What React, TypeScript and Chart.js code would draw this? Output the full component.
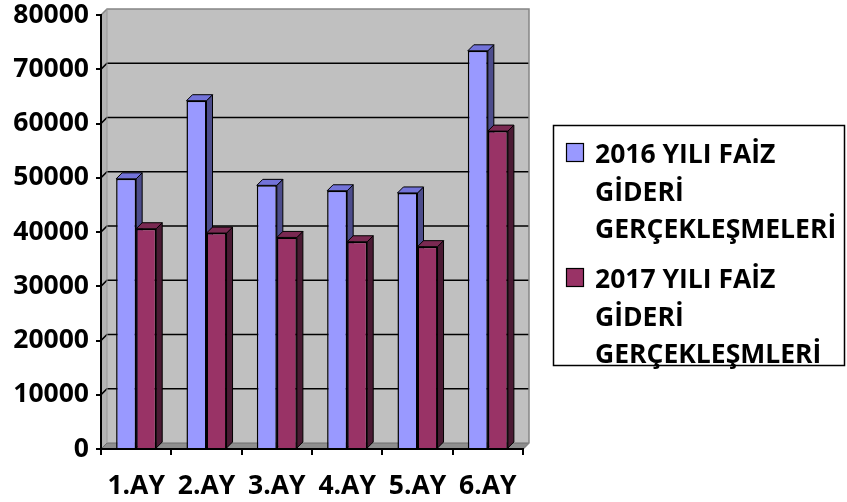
import React, { useEffect, useRef } from "react";
import { Chart, registerables } from "chart.js";

Chart.register(...registerables);

const categories = ["1.AY", "2.AY", "3.AY", "4.AY", "5.AY", "6.AY"];
const series2016 = [49800, 64200, 48600, 47600, 47200, 73400];
const series2017 = [40600, 39800, 39000, 38200, 37300, 58600];
const seriesNames = [
  "2016 YILI FAİZ GİDERİ GERÇEKLEŞMELERİ",
  "2017 YILI FAİZ GİDERİ GERÇEKLEŞMLERİ",
];
const legendLines = [
  ["2016 YILI FAİZ", "GİDERİ", "GERÇEKLEŞMELERİ"],
  ["2017 YILI FAİZ", "GİDERİ", "GERÇEKLEŞMLERİ"],
];
const yMin = 0;
const yMax = 80000;
const yStep = 10000;

const FONT = "'Open Sans', sans-serif";
const FRONT = ["#9999FF", "#993366"];
const TOP = ["#7373D9", "#7A2952"];
const SIDE = ["#4D4D8C", "#4A1A33"];
const D = 6;

const wallPlugin = {
  id: "wall3d",
  beforeDraw(chart: any) {
    const { ctx, chartArea } = chart;
    const { left, right, top, bottom } = chartArea;
    const y = chart.scales.y;
    ctx.save();
    ctx.fillStyle = "#C0C0C0";
    ctx.fillRect(left + D, top - D, right - left, bottom - top);
    ctx.fillStyle = "#B4B4B4";
    ctx.beginPath();
    ctx.moveTo(left, top);
    ctx.lineTo(left + D, top - D);
    ctx.lineTo(left + D, bottom - D);
    ctx.lineTo(left, bottom);
    ctx.closePath();
    ctx.fill();
    ctx.fillStyle = "#8E8E8E";
    ctx.beginPath();
    ctx.moveTo(left, bottom);
    ctx.lineTo(left + D, bottom - D);
    ctx.lineTo(right + D, bottom - D);
    ctx.lineTo(right, bottom);
    ctx.closePath();
    ctx.fill();
    ctx.strokeStyle = "#6E6E6E";
    ctx.lineWidth = 1;
    ctx.stroke();
    ctx.strokeStyle = "#000000";
    ctx.lineWidth = 1.6;
    y.ticks.forEach((t: any) => {
      if (t.value <= yMin || t.value >= yMax) return;
      const py = y.getPixelForValue(t.value);
      ctx.beginPath();
      ctx.moveTo(left, py);
      ctx.lineTo(left + D, py - D);
      ctx.lineTo(right + D, py - D);
      ctx.stroke();
    });
    ctx.strokeStyle = "#858585";
    ctx.lineWidth = 1.5;
    ctx.beginPath();
    ctx.moveTo(left, top);
    ctx.lineTo(left + D, top - D);
    ctx.lineTo(right + D, top - D);
    ctx.lineTo(right + D, bottom - D);
    ctx.lineTo(right, bottom);
    ctx.stroke();
    ctx.strokeStyle = "#9A9A9A";
    ctx.lineWidth = 1;
    ctx.beginPath();
    ctx.moveTo(left + D, top - D);
    ctx.lineTo(left + D, bottom - D);
    ctx.stroke();
    ctx.restore();
  },
  beforeDatasetsDraw(chart: any) {
    const { ctx } = chart;
    ctx.save();
    ctx.strokeStyle = "#000000";
    ctx.lineWidth = 1;
    ctx.lineJoin = "round";
    chart.data.datasets.forEach((ds: any, i: number) => {
      const meta = chart.getDatasetMeta(i);
      meta.data.forEach((bar: any) => {
        const { x, y, base, width } = bar.getProps(["x", "y", "base", "width"], true);
        const l = x - width / 2;
        const r = x + width / 2;
        ctx.fillStyle = SIDE[i];
        ctx.beginPath();
        ctx.moveTo(r, y);
        ctx.lineTo(r + D, y - D);
        ctx.lineTo(r + D, base - D);
        ctx.lineTo(r, base);
        ctx.closePath();
        ctx.fill();
        ctx.stroke();
        ctx.fillStyle = TOP[i];
        ctx.beginPath();
        ctx.moveTo(l, y);
        ctx.lineTo(l + D, y - D);
        ctx.lineTo(r + D, y - D);
        ctx.lineTo(r, y);
        ctx.closePath();
        ctx.fill();
        ctx.stroke();
      });
    });
    ctx.restore();
  },
  afterDraw(chart: any) {
    const { ctx } = chart;
    ctx.save();
    const bx = 553.5, by = 125.5, bw = 291, bh = 240;
    ctx.strokeStyle = "#000000";
    ctx.lineWidth = 1.5;
    ctx.strokeRect(bx, by, bw, bh);
    ctx.font = `bold 26.5px ${FONT}`;
    ctx.textBaseline = "alphabetic";
    ctx.textAlign = "left";
    const itemTop = [143, 268];
    chart.data.datasets.forEach((ds: any, i: number) => {
      const t = itemTop[i];
      ctx.fillStyle = FRONT[i];
      ctx.fillRect(566.5, t + 0.5, 17, 18);
      ctx.strokeStyle = "#000000";
      ctx.lineWidth = 1.2;
      ctx.strokeRect(566.5, t + 0.5, 17, 18);
      ctx.fillStyle = "#000000";
      legendLines[i].forEach((line, k) => {
        ctx.fillText(line, 595, t + 20 + k * 37.5);
      });
    });
    ctx.restore();
  },
};

export default function App() {
  const ref = useRef<HTMLCanvasElement | null>(null);
  useEffect(() => {
    document.body.style.margin = "0";
    const canvas = ref.current;
    if (!canvas) return;
    const chart = new Chart(canvas, {
      type: "bar",
      data: {
        labels: categories,
        datasets: [
          {
            label: seriesNames[0],
            data: series2016,
            backgroundColor: FRONT[0],
            borderColor: "#000000",
            borderWidth: 1.5,
          },
          {
            label: seriesNames[1],
            data: series2017,
            backgroundColor: FRONT[1],
            borderColor: "#000000",
            borderWidth: 1.5,
          },
        ],
      },
      options: {
        animation: false,
        responsive: true,
        maintainAspectRatio: false,
        layout: { padding: { top: 15, right: 324, left: 0, bottom: 0 } },
        datasets: {
          bar: { barPercentage: 1, categoryPercentage: 0.57 },
        },
        plugins: {
          legend: { display: false },
          tooltip: { enabled: false },
          title: { display: false },
        },
        scales: {
          x: {
            grid: {
              display: true,
              drawOnChartArea: false,
              drawTicks: true,
              tickLength: 6,
              color: "#000000",
              lineWidth: 2,
              offset: true,
            },
            border: { display: true, color: "#000000", width: 2, z: 1 },
            ticks: {
              color: "#000000",
              font: { family: FONT, size: 26.5, weight: "bold" },
              padding: 16,
              maxRotation: 0,
              autoSkip: false,
            },
            afterFit(scale: any) {
              scale.height = 53;
              scale.paddingLeft = 0;
              scale.paddingRight = 0;
            },
          },
          y: {
            min: yMin,
            max: yMax,
            grid: {
              display: true,
              drawOnChartArea: false,
              drawTicks: true,
              tickLength: 5,
              color: "#000000",
              lineWidth: 2,
            },
            border: { display: true, color: "#000000", width: 2 },
            ticks: {
              stepSize: yStep,
              color: "#000000",
              font: { family: FONT, size: 26.5, weight: "bold" },
              padding: 7,
              callback: (v: any) => String(v),
            },
            afterFit(scale: any) {
              scale.width = 101;
              scale.paddingTop = 0;
              scale.paddingBottom = 0;
            },
          },
        },
      },
      plugins: [wallPlugin],
    });
    return () => chart.destroy();
  }, []);
  return (
    <div style={{ position: "relative", width: 847, height: 502 }}>
      <canvas ref={ref} />
    </div>
  );
}
